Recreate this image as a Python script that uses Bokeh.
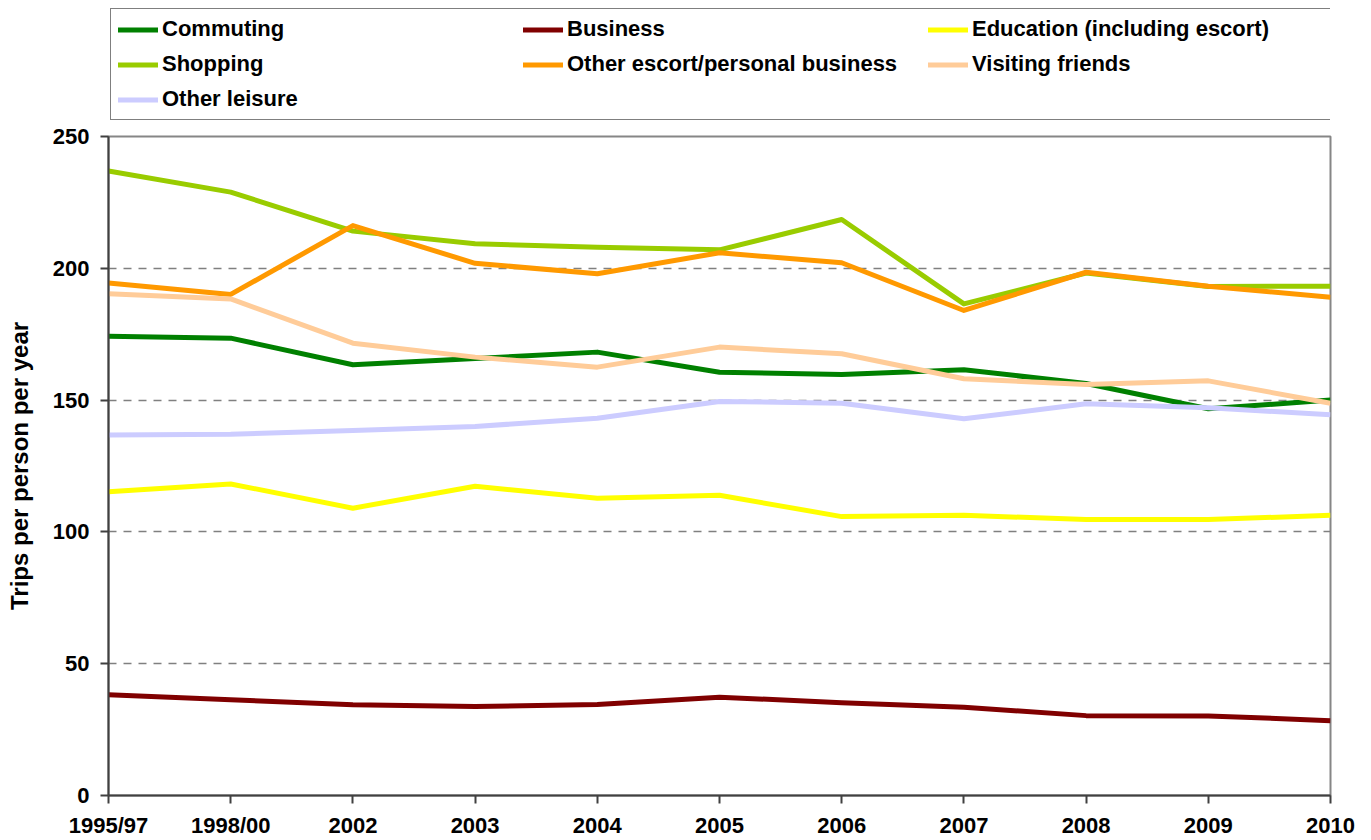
from bokeh.plotting import figure
from bokeh.layouts import column
from bokeh.models import Legend, LegendItem, FixedTicker, Range1d
from bokeh.embed import file_html
from bokeh.resources import INLINE

categories = ["1995/97", "1998/00", "2002", "2003", "2004", "2005", "2006", "2007", "2008", "2009", "2010"]

commuting = [174.2, 173.5, 163.4, 165.8, 168.2, 160.6, 159.7, 161.5, 156.3, 146.7, 150.0]
business = [38.2, 36.3, 34.4, 33.8, 34.5, 37.3, 35.2, 33.5, 30.3, 30.2, 28.4]
education = [115.2, 118.2, 109.0, 117.3, 112.8, 113.9, 105.8, 106.3, 104.7, 104.7, 106.3]
shopping = [236.9, 228.9, 214.1, 209.3, 208.0, 207.0, 218.5, 186.5, 198.2, 193.1, 193.2]
other_escort = [194.4, 190.1, 216.2, 201.9, 197.9, 205.9, 202.1, 184.0, 198.5, 193.2, 189.0]
visiting_friends = [190.3, 188.4, 171.6, 166.3, 162.5, 170.1, 167.6, 158.1, 155.9, 157.3, 148.8]
other_leisure = [136.8, 137.0, 138.5, 140.0, 143.1, 149.5, 148.8, 142.9, 148.6, 147.1, 144.4]

series_names = ["Commuting", "Business", "Education (including escort)", "Shopping",
                "Other escort/personal business", "Visiting friends", "Other leisure"]
series_values = [commuting, business, education, shopping, other_escort, visiting_friends, other_leisure]
series_colors = ["#008000", "#800000", "#FFFF00", "#99CC00", "#FF9900", "#FFCC99", "#CCCCFF"]

y_ticks = [0, 50, 100, 150, 200, 250]

FONT = "Liberation Sans"
LEG_H = 122

x = list(range(len(categories)))

# ---- legend strip (separate figure above the chart) ----
lf = figure(width=1371, height=LEG_H, output_backend="svg", toolbar_location=None,
            x_range=Range1d(0, 1), y_range=Range1d(0, 1),
            x_axis_type=None, y_axis_type=None,
            min_border_left=108, min_border_right=41, min_border_top=0, min_border_bottom=0)
lf.outline_line_color = None
lf.grid.grid_line_color = None
lf.background_fill_color = "white"
lf.border_fill_color = "white"

items = []
for name, col in zip(series_names, series_colors):
    r = lf.line([5, 6], [5, 6], line_color=col, line_width=5, line_cap="round")
    items.append(LegendItem(label=name, renderers=[r]))

legend = Legend(items=items, orientation="horizontal", ncols=3,
                label_text_font=FONT, label_text_font_style="bold",
                label_text_font_size="22px", label_text_color="black",
                glyph_width=40, glyph_height=23, label_standoff=4,
                label_width=352, label_height=23, spacing=9, padding=7, margin=0,
                border_line_color="black", border_line_width=1.2,
                background_fill_color="white", location=(2, LEG_H - 120))
lf.add_layout(legend, "center")

# ---- main chart ----
p = figure(width=1371, height=840 - LEG_H, output_backend="svg", toolbar_location=None,
           x_range=Range1d(0, len(categories) - 1), y_range=Range1d(0, 250),
           min_border_left=108, min_border_right=41, min_border_top=136 - LEG_H,
           min_border_bottom=45)

p.background_fill_color = "white"
p.border_fill_color = "white"
p.outline_line_color = "#868686"
p.outline_line_width = 2

for vals, col in zip(series_values, series_colors):
    p.line(x, vals, line_color=col, line_width=5, line_join="round")

p.xaxis.ticker = FixedTicker(ticks=x)
p.xaxis.major_label_overrides = {i: c for i, c in enumerate(categories)}
p.yaxis.ticker = FixedTicker(ticks=y_ticks)

for ax in (p.xaxis, p.yaxis):
    ax.axis_line_color = "#404040"
    ax.axis_line_width = 2
    ax.major_tick_line_color = "#404040"
    ax.major_tick_line_width = 2
    ax.major_tick_out = 8
    ax.major_tick_in = 0
    ax.minor_tick_line_color = None
    ax.major_label_text_font = FONT
    ax.major_label_text_font_style = "bold"
    ax.major_label_text_font_size = "22px"
    ax.major_label_text_color = "black"

p.xaxis.major_label_standoff = 9
p.yaxis.major_label_standoff = 11
p.yaxis.axis_label = "Trips per person per year"
p.yaxis.axis_label_text_font = FONT
p.yaxis.axis_label_text_font_style = "bold"
p.yaxis.axis_label_text_font_size = "24px"
p.yaxis.axis_label_text_color = "black"
p.yaxis.axis_label_standoff = 17

p.xgrid.grid_line_color = None
p.ygrid.grid_line_color = "#808080"
p.ygrid.grid_line_width = 1.5
p.ygrid.grid_line_dash = "8 7"

layout = column(lf, p, spacing=0)
open("out.html", "w").write(file_html(layout, INLINE))
